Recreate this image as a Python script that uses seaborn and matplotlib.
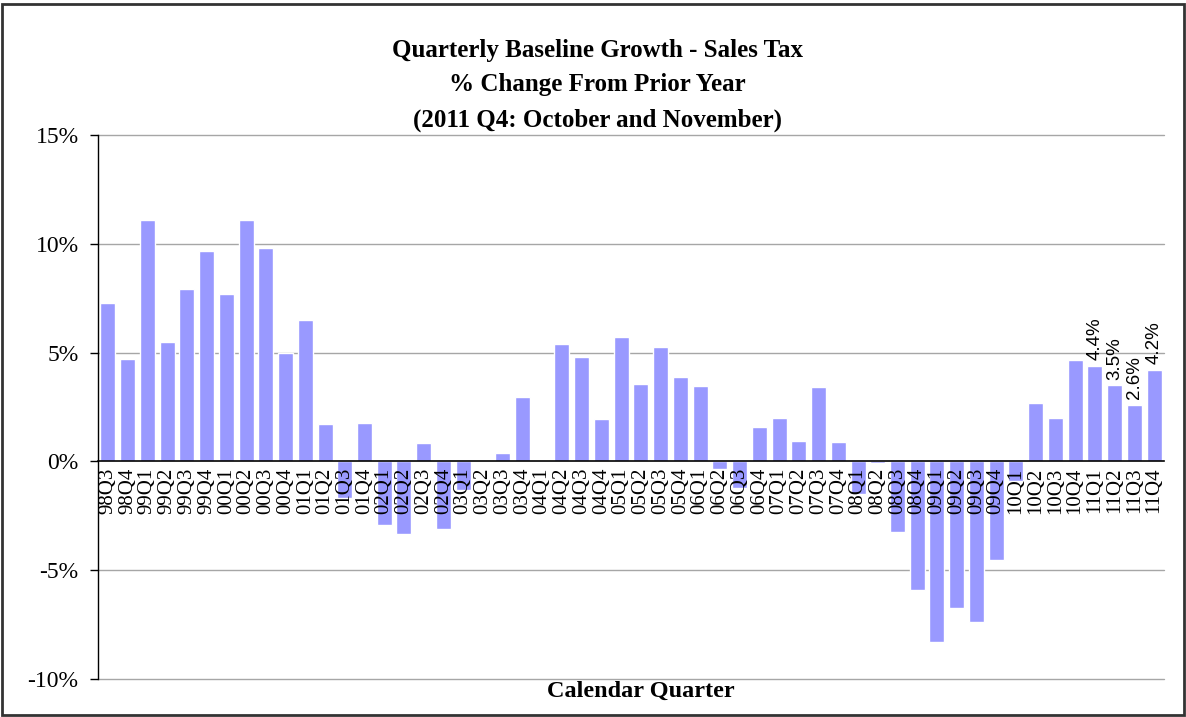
import matplotlib
matplotlib.use("Agg")
import matplotlib.pyplot as plt
import seaborn as sns
import pandas as pd
from matplotlib.patches import Rectangle
from matplotlib.ticker import FuncFormatter, MultipleLocator

quarters = ["98Q3", "98Q4",
            "99Q1", "99Q2", "99Q3", "99Q4",
            "00Q1", "00Q2", "00Q3", "00Q4",
            "01Q1", "01Q2", "01Q3", "01Q4",
            "02Q1", "02Q2", "02Q3", "02Q4",
            "03Q1", "03Q2", "03Q3", "03Q4",
            "04Q1", "04Q2", "04Q3", "04Q4",
            "05Q1", "05Q2", "05Q3", "05Q4",
            "06Q1", "06Q2", "06Q3", "06Q4",
            "07Q1", "07Q2", "07Q3", "07Q4",
            "08Q1", "08Q2", "08Q3", "08Q4",
            "09Q1", "09Q2", "09Q3", "09Q4",
            "10Q1", "10Q2", "10Q3", "10Q4",
            "11Q1", "11Q2", "11Q3", "11Q4"]

growth_pct = [7.3, 4.7,
              11.1, 5.5, 7.9, 9.65,
              7.7, 11.1, 9.8, 5.0,
              6.5, 1.7, -1.7, 1.75,
              -2.9, -3.35, 0.85, -3.1,
              -1.3, 0.0, 0.4, 2.95,
              0.05, 5.4, 4.8, 1.95,
              5.7, 3.55, 5.25, 3.9,
              3.45, -0.35, -1.2, 1.6,
              2.0, 0.95, 3.4, 0.9,
              -1.5, -0.08, -3.25, -5.9,
              -8.3, -6.75, -7.4, -4.55,
              -0.9, 2.7, 2.0, 4.65,
              4.4, 3.5, 2.6, 4.2]

labelled_quarters = ["11Q1", "11Q2", "11Q3", "11Q4"]

title_lines = ["Quarterly Baseline Growth - Sales Tax",
               "% Change From Prior Year",
               "(2011 Q4: October and November)"]
x_title = "Calendar Quarter"

df = pd.DataFrame({"quarter": quarters, "growth": growth_pct})

sns.set_theme(style="white")
serif = ["Liberation Serif", "DejaVu Serif"]
sans = ["Liberation Sans Narrow", "Liberation Sans", "DejaVu Sans"]

fig = plt.figure(figsize=(11.86, 7.17), dpi=100)
ax = fig.add_axes([98 / 1186, 1 - 679 / 717, (1164 - 98) / 1186, (679 - 135) / 717])

sns.barplot(data=df, x="quarter", y="growth", color="#9999FF", saturation=1,
            width=0.76, ax=ax, order=quarters, zorder=2)

ax.set_ylim(-10, 15)
ax.set_xlim(-0.5, len(quarters) - 0.5)
ax.yaxis.set_major_locator(MultipleLocator(5))
ax.yaxis.set_major_formatter(FuncFormatter(lambda v, p: f"{v:.0f}%"))
ax.grid(False)
ax.set_axisbelow(False)
ax.xaxis.set_zorder(5)
ax.yaxis.set_zorder(5)
for yv in ax.get_yticks():
    if -10 <= yv <= 15 and yv != 0:
        ax.axhline(yv, color="#A6A6A6", linewidth=1.0, zorder=0, clip_on=False)

for s in ["top", "right"]:
    ax.spines[s].set_visible(False)
ax.spines["left"].set_color("black")
ax.spines["left"].set_linewidth(1.0)
ax.spines["bottom"].set_position(("data", 0))
ax.spines["bottom"].set_color("black")
ax.spines["bottom"].set_linewidth(1.2)
ax.spines["bottom"].set_zorder(5)

ax.tick_params(axis="y", left=True, length=6, width=1, color="black", pad=8,
               labelsize=17, labelcolor="black")
ax.tick_params(axis="x", bottom=False, length=0, pad=4.5, labelsize=15,
               labelrotation=90, labelcolor="black")
for lab in ax.get_yticklabels():
    lab.set_fontfamily(serif)
for lab in ax.get_xticklabels():
    lab.set_fontfamily(serif)
    lab.set_verticalalignment("top")
    lab.set_horizontalalignment("center")

ax.set_xlabel("")
ax.set_ylabel("")

for i, (q, v) in enumerate(zip(quarters, growth_pct)):
    if q in labelled_quarters:
        ax.annotate(f"{v:.1f}%", xy=(i, v), xytext=(0, 4), textcoords="offset points",
                    rotation=90, ha="center", va="bottom", fontsize=13.5,
                    family=sans, color="black", zorder=6)

fig.text(641 / 1186, 1 - 691 / 717, x_title, ha="center", va="center",
         fontsize=17.5, fontweight="bold", family=serif, color="black")

for k, line in enumerate(title_lines):
    fig.text(597 / 1186, 1 - (50 + 35 * k) / 717, line, ha="center", va="center",
             fontsize=18, fontweight="bold", family=serif, color="black")

fig.patches.append(Rectangle((2 / 1186, 2 / 717), 1182 / 1186, 711 / 717,
                             transform=fig.transFigure, fill=False,
                             edgecolor="#333333", linewidth=2))

fig.savefig("out.png", dpi=100, facecolor="white")
